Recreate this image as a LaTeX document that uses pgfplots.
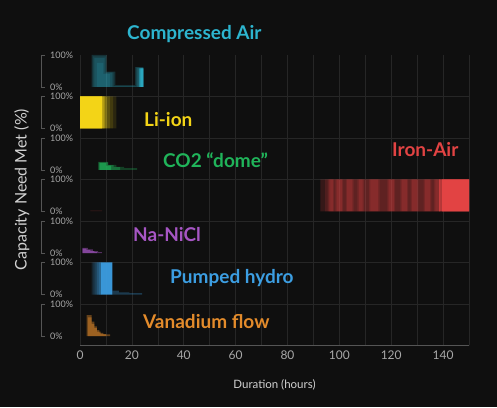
\documentclass[border=0pt]{standalone}
\usepackage{pgfplots}
\pgfplotsset{compat=1.18}
\usepackage{fontspec}
\setmainfont{Lato}
\definecolor{bg}{HTML}{0F0F0F}
\definecolor{gridc}{HTML}{262626}
\definecolor{axc}{HTML}{555555}
\definecolor{tickc}{HTML}{A8A8A8}
\definecolor{labc}{HTML}{D2D2D2}
\definecolor{cyanC}{HTML}{2DB5CF}
\definecolor{yelC}{HTML}{F3D417}
\definecolor{grnC}{HTML}{20B45A}
\definecolor{redC}{HTML}{E24343}
\definecolor{purC}{HTML}{A656C4}
\definecolor{bluC}{HTML}{3C9EE2}
\definecolor{orgC}{HTML}{E38B2B}
\pgfplotsset{
  panel/.style={at={(80pt,#1)},anchor=south west,width=389pt,height=32pt,scale only axis,
    xmin=0,xmax=150,ymin=0,ymax=100,axis line style={draw=none},major tick length=0pt,
    xtick=\empty,ytick={0,100},yticklabels={0\%,100\%},
    yticklabel style={anchor=west,xshift=-30pt,inner sep=0pt,font=\fontsize{9}{10}\selectfont,text=tickc},
    clip=false},
  area/.style 2 args={fill=#1,fill opacity=#2,draw=none,const plot},
}
\newcommand{\bracket}{\draw[axc,line width=0.7pt] ([xshift=-35pt]rel axis cs:0,0) -- ([xshift=-39pt]rel axis cs:0,0) -- ([xshift=-39pt]rel axis cs:0,1) -- ([xshift=-35pt]rel axis cs:0,1);}
\begin{document}
\begin{tikzpicture}
\fill[bg] (0pt,0pt) rectangle (497pt,407pt);
\path[use as bounding box] (0pt,0pt) rectangle (497pt,407pt);
% background axis: grid and x axis
\begin{axis}[at={(80pt,62pt)},anchor=south west,width=389pt,height=290pt,scale only axis,
  xmin=0,xmax=150,ymin=62,ymax=352,
  axis x line*=bottom, axis y line*=left,
  x axis line style={draw=axc,line width=0.8pt,-},
  y axis line style={draw=none},
  xtick={0,20,...,140},xticklabels={0,20,40,60,80,100,120,140},
  minor xtick={10,30,...,150},
  xmajorgrids,xminorgrids,
  ytick={103,144.5,186,227.5,269,310.5},yticklabels={},ymajorgrids,
  major grid style={gridc,line width=0.6pt},minor grid style={gridc,line width=0.6pt},
  major tick length=0pt,minor tick length=0pt,
  xticklabel style={font=\fontsize{12}{13}\selectfont,text=tickc,yshift=-2.5pt}]
\draw[axc,line width=0.8pt] (axis cs:0,62) -- ++(0pt,-4pt);
\draw[axc,line width=0.8pt] (axis cs:150,62) -- ++(0pt,-4pt);
\end{axis}
% Compressed Air
\begin{axis}[panel=320pt]
\bracket
\addplot[area={cyanC}{0.2}] coordinates {(4.5,100)(10.3,48)(13.6,6)(21.3,62)(24.4,62)} \closedcycle;
\addplot[area={cyanC}{0.15}] coordinates {(5,96)(10,46)(13,3)(21.6,61)(24.4,61)} \closedcycle;
\addplot[area={cyanC}{0.15}] coordinates {(5.5,90)(9.5,45)(12.5,0)(22,60)(24.4,60)} \closedcycle;
\addplot[area={cyanC}{0.15}] coordinates {(6.5,75)(9,40)(11.5,0)(22.5,58)(24.4,58)} \closedcycle;
\addplot[area={cyanC}{0.45}] coordinates {(22.8,58)(24.4,58)} \closedcycle;
\addplot[area={cyanC}{0.7}] coordinates {(23.3,58)(24.4,58)} \closedcycle;
\end{axis}
% Li-ion
\begin{axis}[panel=278.5pt]
\bracket
\addplot[area={yelC}{0.12}] coordinates {(0,100)(14,100)} \closedcycle;
\addplot[area={yelC}{0.12}] coordinates {(0,100)(12.8,100)} \closedcycle;
\addplot[area={yelC}{0.15}] coordinates {(0,100)(11.5,100)} \closedcycle;
\addplot[area={yelC}{0.2}] coordinates {(0,100)(10.4,100)} \closedcycle;
\addplot[area={yelC}{0.3}] coordinates {(0,100)(9.7,100)} \closedcycle;
\addplot[area={yelC}{0.4}] coordinates {(0,100)(9.1,100)} \closedcycle;
\addplot[area={yelC}{1}] coordinates {(0,100)(8.4,100)} \closedcycle;
\end{axis}
% CO2 dome
\begin{axis}[panel=237pt]
\bracket
\addplot[area={grnC}{0.3}] coordinates {(7,25)(10.8,16)(14,10)(17,6)(22,6)} \closedcycle;
\addplot[area={grnC}{0.4}] coordinates {(7.3,24)(10.8,15)(13,9)(15.5,9)} \closedcycle;
\addplot[area={grnC}{0.6}] coordinates {(7.6,22)(10,14)(12,14)} \closedcycle;
\end{axis}
% Iron-Air
\begin{axis}[panel=195.5pt]
\bracket
\addplot[area={redC}{0.1}] coordinates {(4,4)(8.5,4)} \closedcycle;
\addplot[area={redC}{0.18}] coordinates {(92.7,100)(150,100)} \closedcycle;
\addplot[area={redC}{0.15}] coordinates {(94.5,100)(139,100)} \closedcycle;
\addplot[area={redC}{0.12}] coordinates {(96.5,100)(139,100)} \closedcycle;
\addplot[area={redC}{0.15}] coordinates {(95.5,100)(98,0)(98.5,100)(101.5,0)(102.5,100)(105.5,0)(107,100)(109.5,0)(111.5,100)(115.5,0)(118.5,100)(121.5,0)(123.5,100)(126.5,0)(127.5,100)(130.5,0)(132.5,100)(135.5,0)(136.5,100)(139,100)} \closedcycle;
\addplot[area={redC}{0.18}] coordinates {(96,100)(97.5,0)(99,100)(101,0)(103,100)(105,0)(107.5,100)(109,0)(112,100)(115,0)(119,100)(121,0)(124,100)(126,0)(128,100)(130,0)(133,100)(135,0)(137,100)(139,100)} \closedcycle;
\addplot[area={redC}{0.7}] coordinates {(138.5,100)(150,100)} \closedcycle;
\addplot[area={redC}{1}] coordinates {(139.5,100)(150,100)} \closedcycle;
\end{axis}
% Na-NiCl
\begin{axis}[panel=154pt]
\bracket
\addplot[area={purC}{0.45}] coordinates {(0.9,16)(3,11)(5,6)(7,3)(8.4,3)} \closedcycle;
\addplot[area={purC}{0.6}] coordinates {(1,14)(2.5,10)(4,6)(5.5,3)(6.5,3)} \closedcycle;
\end{axis}
% Pumped hydro
\begin{axis}[panel=112.5pt]
\bracket
\addplot[area={bluC}{0.15}] coordinates {(4.5,100)(8.1,100)} \closedcycle;
\addplot[area={bluC}{0.15}] coordinates {(5.2,100)(8.1,100)} \closedcycle;
\addplot[area={bluC}{0.15}] coordinates {(5.9,100)(8.1,100)} \closedcycle;
\addplot[area={bluC}{0.2}] coordinates {(6.6,100)(8.1,100)} \closedcycle;
\addplot[area={bluC}{0.25}] coordinates {(7.3,100)(8.1,100)} \closedcycle;
\addplot[area={bluC}{0.95}] coordinates {(8.1,100)(12.5,100)} \closedcycle;
\addplot[area={bluC}{0.3}] coordinates {(12.5,12)(15,7)(19,4)(24,4)} \closedcycle;
\end{axis}
% Vanadium flow
\begin{axis}[panel=71pt]
\bracket
\addplot[area={orgC}{0.4}] coordinates {(2.6,65)(4.5,45)(5.5,30)(6.5,18)(7.5,10)(9,5)(11.6,5)} \closedcycle;
\addplot[area={orgC}{0.45}] coordinates {(3,58)(4.5,38)(5.5,25)(6.5,14)(8,6)(10,6)} \closedcycle;
\end{axis}
% titles
\tikzset{lab/.style={anchor=base west,inner sep=0pt,font=\fontsize{19}{22}\selectfont\bfseries}}
\node[lab,text=cyanC] at (127pt,367pt) {Compressed Air};
\node[lab,text=yelC] at (144pt,280pt) {Li-ion};
\node[lab,text=grnC] at (163pt,239pt) {CO2 “dome”};
\node[lab,text=redC] at (392pt,250pt) {Iron-Air};
\node[lab,text=purC] at (133pt,165pt) {Na-NiCl};
\node[lab,text=bluC] at (170pt,124pt) {Pumped hydro};
\node[lab,text=orgC] at (143pt,79pt) {Vanadium flow};
\node[anchor=base,inner sep=0pt,font=\fontsize{11.5}{13}\selectfont,text=labc] at (274.5pt,18.7pt) {Duration (hours)};
\node[rotate=90,anchor=base,inner sep=0pt,font=\fontsize{16}{18}\selectfont,text=labc] at (26.7pt,217.5pt) {Capacity Need Met (\%)};
\end{tikzpicture}
\end{document}
